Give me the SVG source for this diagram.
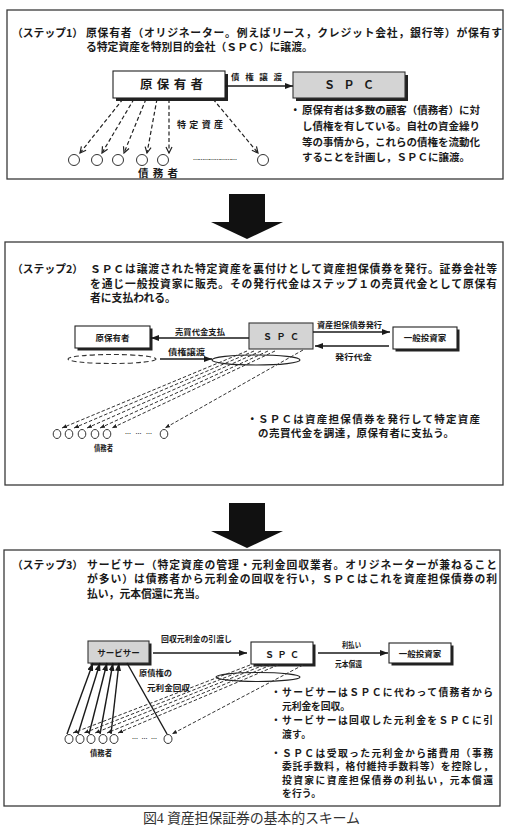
<svg xmlns="http://www.w3.org/2000/svg" width="509" height="826" viewBox="0 0 509 826">
<style>
text{font-family:"Noto Sans CJK JP","Liberation Sans",sans-serif;fill:#1a1a1a;font-weight:700}
.ttl{font-size:10.8px}
.bul{font-size:10.5px}
.bul3{font-size:9.8px}
.lbl{font-size:8px}
.box{fill:#fff;stroke:#222;stroke-width:1.1}
.gray{fill:#d4d4d4;stroke:#333;stroke-width:1.1}
.shd{fill:#222}
.panel{fill:none;stroke:#3a3a3a;stroke-width:1.3}
.sol{stroke:#1a1a1a;stroke-width:1.4;fill:none}
.dsh{stroke:#222;stroke-width:1.2;fill:none;stroke-dasharray:4 2.5}
.dsh2{stroke:#333;stroke-width:1;fill:none;stroke-dasharray:3.5 2}
.deb{fill:#fff;stroke:#333;stroke-width:1}
.cap{font-family:"Liberation Serif","Noto Sans CJK JP",serif;font-weight:400;font-size:14px;fill:#333}
</style>
<defs>
<marker id="tri" viewBox="0 0 8 6" refX="8" refY="3" markerWidth="8" markerHeight="6" markerUnits="userSpaceOnUse" orient="auto"><path d="M0,0 L8,3 L0,6 z" fill="#1a1a1a"/></marker>
<marker id="chev" viewBox="0 0 8 8" refX="7" refY="4" markerWidth="8" markerHeight="8" markerUnits="userSpaceOnUse" orient="auto"><path d="M1,1 L7,4 L1,7" fill="none" stroke="#222" stroke-width="1.2"/></marker>
<marker id="sm" viewBox="0 0 5 4" refX="5" refY="2" markerWidth="5" markerHeight="4" markerUnits="userSpaceOnUse" orient="auto"><path d="M0,0 L5,2 L0,4 z" fill="#222"/></marker>
</defs>

<!-- panels -->
<rect class="panel" x="7" y="10" width="496" height="169"/>
<rect class="panel" x="5" y="242" width="498" height="243"/>
<rect class="panel" x="4" y="550" width="496" height="256"/>

<!-- big arrows -->
<polygon points="229,194 265,194 265,222 283,222 247,239 211,222 229,222" fill="#111"/>
<polygon points="229,503 265,503 265,531 283,531 247,548 211,531 229,531" fill="#111"/>

<!-- step 1 text -->
<g id="step1-text">
<text class="ttl" x="12" y="36.5">（ステップ1）</text>
<text class="ttl" x="86" y="36.5" textLength="416" lengthAdjust="spacing">原保有者（オリジネーター。例えばリース，クレジット会社，銀行等）が保有す</text>
<text class="ttl" x="86" y="51">る特定資産を特別目的会社（ＳＰＣ）に譲渡。</text>
<text class="bul" x="290" y="114">・</text>
<text class="bul" x="302" y="114" textLength="178" lengthAdjust="spacing">原保有者は多数の顧客（債務者）に対</text>
<text class="bul" x="302" y="130" textLength="178" lengthAdjust="spacing">し債権を有している。自社の資金繰り</text>
<text class="bul" x="302" y="146" textLength="178" lengthAdjust="spacing">等の事情から，これらの債権を流動化</text>
<text class="bul" x="302" y="161">することを計画し，ＳＰＣに譲渡。</text>
</g>

<g id="s1-originator">
<rect class="shd" x="116" y="74" width="112" height="27"/>
<rect class="box" x="113" y="71" width="112" height="27"/>
<text x="140" y="89" font-size="12.5" textLength="63" lengthAdjust="spacing">原保有者</text>
</g>
<g id="s1-spc">
<rect class="shd" x="296" y="75" width="112" height="26"/>
<rect class="gray" x="293" y="72" width="112" height="26"/>
<text x="324" y="89" font-size="11" textLength="50" lengthAdjust="spacing">ＳＰＣ</text>
</g>
<g id="s1-debtors">
<circle class="deb" cx="74" cy="160" r="5.5"/>
<circle class="deb" cx="97" cy="160" r="5.5"/>
<circle class="deb" cx="118" cy="160" r="5.5"/>
<circle class="deb" cx="142" cy="160" r="5.5"/>
<circle class="deb" cx="163" cy="160" r="5.5"/>
<circle class="deb" cx="263" cy="160" r="5.5"/>
<text x="193" y="162" font-size="6" font-weight="400" textLength="44" lengthAdjust="spacing">…… …… …… ……</text>
<text x="138" y="177" font-size="10.5" textLength="40" lengthAdjust="spacing">債務者</text>
</g>
<g id="s1-connectors">
<line class="sol" x1="225" y1="86" x2="293" y2="86" marker-end="url(#tri)"/>
<text x="231" y="80" font-size="8.5" textLength="51" lengthAdjust="spacing">債権譲渡</text>
<line class="dsh" x1="123" y1="99" x2="80" y2="153" marker-end="url(#chev)"/>
<line class="dsh" x1="134" y1="99" x2="102" y2="153" marker-end="url(#chev)"/>
<line class="dsh" x1="146" y1="99" x2="124" y2="153" marker-end="url(#chev)"/>
<line class="dsh" x1="157" y1="99" x2="147" y2="153" marker-end="url(#chev)"/>
<line class="dsh" x1="169" y1="99" x2="169" y2="153" marker-end="url(#chev)"/>
<line class="dsh" x1="213" y1="99" x2="258" y2="153" marker-end="url(#chev)"/>
<text x="177" y="128" font-size="9" textLength="46" lengthAdjust="spacing">特定資産</text>
</g>

<!-- step 2 -->
<g id="step2-text">
<text class="ttl" x="12" y="273">（ステップ2）</text>
<text class="ttl" x="90" y="273" textLength="407" lengthAdjust="spacing">ＳＰＣは譲渡された特定資産を裏付けとして資産担保債券を発行。証券会社等</text>
<text class="ttl" x="90" y="287.5" textLength="407" lengthAdjust="spacing">を通じ一般投資家に販売。その発行代金はステップ１の売買代金として原保有</text>
<text class="ttl" x="90" y="302">者に支払われる。</text>
<text class="bul" x="247" y="423">・</text>
<text class="bul" x="258" y="423" textLength="222" lengthAdjust="spacing">ＳＰＣは資産担保債券を発行して特定資産</text>
<text class="bul" x="258" y="437" textLength="196" lengthAdjust="spacing">の売買代金を調達，原保有者に支払う。</text>
</g>
<g id="s2-originator">
<rect class="shd" x="77.5" y="328.5" width="75" height="22"/>
<rect class="box" x="75" y="326" width="75" height="22"/>
<text x="112.5" y="341" font-size="8.5" text-anchor="middle">原保有者</text>
</g>
<g id="s2-spc">
<rect class="gray" x="249" y="323" width="64" height="26"/>
<text x="263" y="340" font-size="9" textLength="36" lengthAdjust="spacing">ＳＰＣ</text>
</g>
<g id="s2-investor">
<rect class="shd" x="395.5" y="329.5" width="64" height="22"/>
<rect class="box" x="393" y="327" width="64" height="22"/>
<text x="425" y="341" font-size="8.5" text-anchor="middle">一般投資家</text>
</g>
<g id="s2-pool">
<ellipse cx="112" cy="359" rx="44" ry="4.5" fill="none" stroke="#333" stroke-width="1.1" stroke-dasharray="5 3"/>
<ellipse cx="256" cy="360" rx="44" ry="5" fill="none" stroke="#222" stroke-width="1.2"/>
</g>
<g id="s2-debtors">
<ellipse class="deb" cx="57" cy="434" rx="3.8" ry="4.5"/>
<ellipse class="deb" cx="69" cy="434" rx="3.8" ry="4.5"/>
<ellipse class="deb" cx="82" cy="434" rx="3.8" ry="4.5"/>
<ellipse class="deb" cx="95" cy="434" rx="3.8" ry="4.5"/>
<ellipse class="deb" cx="107" cy="434" rx="3.8" ry="4.5"/>
<ellipse class="deb" cx="164" cy="434" rx="3.8" ry="4.5"/>
<text x="125" y="436" font-size="6" font-weight="400" textLength="27" lengthAdjust="spacing">………</text>
<text x="94" y="451" font-size="7.5" textLength="19" lengthAdjust="spacingAndGlyphs">債務者</text>
</g>
<g id="s2-connectors">
<line class="sol" x1="249" y1="338" x2="151" y2="338" marker-end="url(#tri)"/>
<text class="lbl" x="175" y="334.5" textLength="50" lengthAdjust="spacingAndGlyphs">売買代金支払</text>
<line class="sol" x1="160" y1="359" x2="212" y2="359" marker-end="url(#tri)"/>
<text class="lbl" x="168" y="355" textLength="37" lengthAdjust="spacingAndGlyphs">債権譲渡</text>
<line class="sol" x1="313" y1="332" x2="390" y2="332" marker-end="url(#tri)"/>
<text class="lbl" x="317" y="327.5" textLength="65" lengthAdjust="spacingAndGlyphs">資産担保債券発行</text>
<line class="sol" x1="389" y1="346" x2="315" y2="346" marker-end="url(#tri)"/>
<text class="lbl" x="335" y="360" textLength="37" lengthAdjust="spacingAndGlyphs">発行代金</text>
<line class="dsh2" x1="247" y1="351" x2="62" y2="428" marker-end="url(#sm)"/>
<line class="dsh2" x1="254" y1="351" x2="74" y2="428" marker-end="url(#sm)"/>
<line class="dsh2" x1="261" y1="351" x2="87" y2="428" marker-end="url(#sm)"/>
<line class="dsh2" x1="268" y1="351" x2="100" y2="428" marker-end="url(#sm)"/>
<line class="dsh2" x1="275" y1="351" x2="112" y2="428" marker-end="url(#sm)"/>
<line class="dsh2" x1="303" y1="350" x2="165" y2="428" marker-end="url(#sm)"/>
</g>

<!-- step 3 -->
<g id="step3-text">
<text class="ttl" x="12" y="568.5">（ステップ3）</text>
<text class="ttl" x="87" y="568.5" textLength="410" lengthAdjust="spacing">サービサー（特定資産の管理・元利金回収業者。オリジネーターが兼ねること</text>
<text class="ttl" x="87" y="583" textLength="410" lengthAdjust="spacing">が多い）は債務者から元利金の回収を行い，ＳＰＣはこれを資産担保債券の利</text>
<text class="ttl" x="87" y="597.5">払い，元本償還に充当。</text>
<text class="bul3" x="271" y="696">・</text>
<text class="bul3" x="282" y="696" textLength="211" lengthAdjust="spacing">サービサーはＳＰＣに代わって債務者から</text>
<text class="bul3" x="282" y="709.5" textLength="68" lengthAdjust="spacing">元利金を回収。</text>
<text class="bul3" x="271" y="724">・</text>
<text class="bul3" x="282" y="724" textLength="211" lengthAdjust="spacing">サービサーは回収した元利金をＳＰＣに引</text>
<text class="bul3" x="282" y="737.5" textLength="29" lengthAdjust="spacing">渡す。</text>
<text class="bul3" x="271" y="756.5">・</text>
<text class="bul3" x="282" y="756.5" textLength="211" lengthAdjust="spacing">ＳＰＣは受取った元利金から諸費用（事務</text>
<text class="bul3" x="282" y="770" textLength="211" lengthAdjust="spacing">委託手数料，格付維持手数料等）を控除し，</text>
<text class="bul3" x="282" y="783.5" textLength="211" lengthAdjust="spacing">投資家に資産担保債券の利払い，元本償還</text>
<text class="bul3" x="282" y="797" textLength="39" lengthAdjust="spacing">を行う。</text>
</g>
<g id="s3-servicer">
<rect class="shd" x="90.5" y="643.5" width="61" height="22"/>
<rect class="gray" x="88" y="641" width="61" height="22"/>
<text x="118.5" y="656" font-size="8.5" text-anchor="middle">サービサー</text>
</g>
<g id="s3-spc">
<rect class="shd" x="253.5" y="644.5" width="62" height="22"/>
<rect class="box" x="251" y="642" width="62" height="22"/>
<text x="265" y="657.5" font-size="9" textLength="34" lengthAdjust="spacing">ＳＰＣ</text>
</g>
<g id="s3-investor">
<rect class="shd" x="391.5" y="645.5" width="62" height="20"/>
<rect class="box" x="389" y="643" width="62" height="20"/>
<text x="420" y="656.5" font-size="8.5" text-anchor="middle">一般投資家</text>
</g>
<g id="s3-pool">
<ellipse cx="258" cy="677" rx="42" ry="4.5" fill="none" stroke="#222" stroke-width="1.2"/>
</g>
<g id="s3-debtors">
<ellipse class="deb" cx="69" cy="739" rx="4" ry="4.5"/>
<ellipse class="deb" cx="80" cy="739" rx="4" ry="4.5"/>
<ellipse class="deb" cx="91" cy="739" rx="4" ry="4.5"/>
<ellipse class="deb" cx="103" cy="739" rx="4" ry="4.5"/>
<ellipse class="deb" cx="114" cy="739" rx="4" ry="4.5"/>
<ellipse class="deb" cx="168" cy="739" rx="4" ry="4.5"/>
<text x="132" y="741" font-size="6" font-weight="400" textLength="25" lengthAdjust="spacing">………</text>
<text x="90" y="756" font-size="7.5" textLength="22" lengthAdjust="spacingAndGlyphs">債務者</text>
</g>
<g id="s3-connectors">
<line class="sol" x1="153" y1="653" x2="247" y2="653" marker-end="url(#tri)"/>
<text class="lbl" x="161" y="641.5" textLength="71" lengthAdjust="spacingAndGlyphs">回収元利金の引渡し</text>
<line class="sol" x1="318" y1="653" x2="388" y2="653" marker-end="url(#tri)"/>
<text class="lbl" x="342" y="648" textLength="19" lengthAdjust="spacingAndGlyphs">利払い</text>
<text class="lbl" x="335" y="666.5" textLength="27" lengthAdjust="spacingAndGlyphs">元本償還</text>
<text class="lbl" x="139" y="676" textLength="33" lengthAdjust="spacingAndGlyphs">原債権の</text>
<text class="lbl" x="147" y="691" textLength="43" lengthAdjust="spacingAndGlyphs">元利金回収</text>
<line class="sol" x1="67" y1="734" x2="93" y2="663" marker-end="url(#tri)"/>
<line class="sol" x1="78" y1="734" x2="100" y2="663" marker-end="url(#tri)"/>
<line class="sol" x1="89" y1="734" x2="107" y2="663" marker-end="url(#tri)"/>
<line class="sol" x1="100" y1="734" x2="113" y2="663" marker-end="url(#tri)"/>
<line class="sol" x1="111" y1="734" x2="119" y2="663" marker-end="url(#tri)"/>
<line class="sol" x1="167" y1="734" x2="127" y2="663"/>
<line class="dsh2" x1="250" y1="665" x2="73" y2="733" marker-end="url(#sm)"/>
<line class="dsh2" x1="257" y1="665" x2="84" y2="733" marker-end="url(#sm)"/>
<line class="dsh2" x1="264" y1="665" x2="95" y2="733" marker-end="url(#sm)"/>
<line class="dsh2" x1="271" y1="665" x2="107" y2="733" marker-end="url(#sm)"/>
<line class="dsh2" x1="278" y1="665" x2="118" y2="733" marker-end="url(#sm)"/>
<line class="dsh2" x1="303" y1="665" x2="172" y2="734" marker-end="url(#sm)"/>
</g>

<text class="cap" x="143" y="823" textLength="217" lengthAdjust="spacing">図4 資産担保証券の基本的スキーム</text>
</svg>
